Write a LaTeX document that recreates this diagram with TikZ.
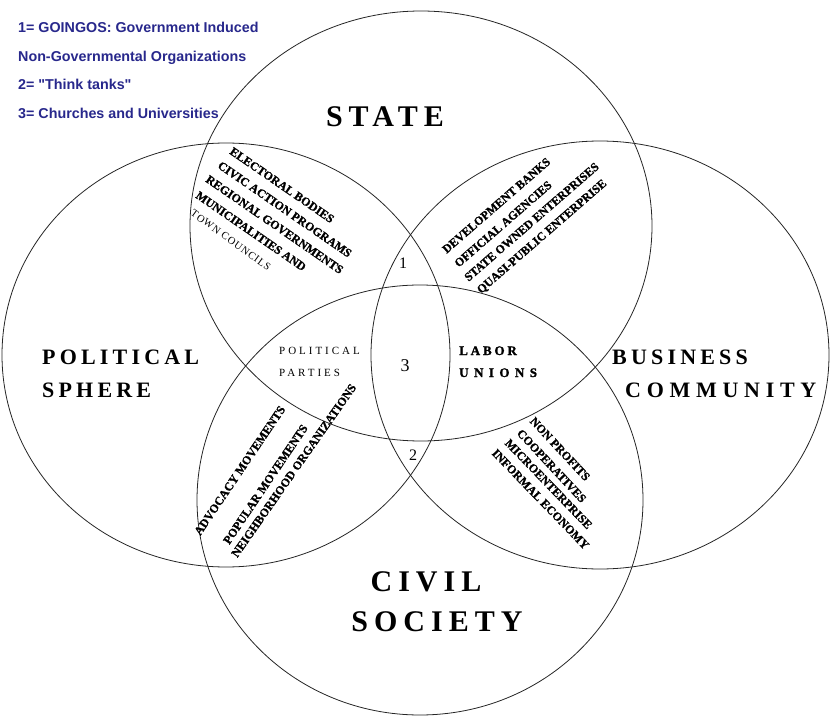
\documentclass[tikz,border=0pt]{standalone}
\usepackage{fontspec}
\setmainfont{Liberation Serif}
\newfontfamily\legendfont{Liberation Sans}
\definecolor{legendblue}{RGB}{40,40,140}
\tikzset{
  circ/.style={draw=black!85, line width=0.8pt},
  legend/.style={anchor=base west, inner sep=0pt, text=legendblue,
    font=\legendfont\bfseries\fontsize{14.3}{15}\selectfont},
  biglabel/.style={inner sep=0pt, anchor=base,
    font=\bfseries\fontsize{30}{30}\selectfont\addfontfeature{LetterSpace=20}},
  midlabel/.style={inner sep=0pt, anchor=base west,
    font=\bfseries\fontsize{22}{22}\selectfont\addfontfeature{LetterSpace=19}},
  partylabel/.style={inner sep=0pt, anchor=base west,
    font=\fontsize{11}{11}\selectfont\addfontfeature{LetterSpace=27}},
  unionlabel/.style={inner sep=0pt, anchor=base west,
    font=\bfseries\fontsize{13}{13}\selectfont\addfontfeature{LetterSpace=22,FakeBold=1.5}},
  numlabel/.style={inner sep=0pt, font=\fontsize{16}{16}\selectfont},
  rtext/.style={inner sep=0pt, anchor=west, font=\bfseries\fontsize{12}{12}\selectfont\addfontfeature{FakeBold=1.2}},
  rtextlight/.style={inner sep=0pt, anchor=west, font=\fontsize{10.5}{11}\selectfont\addfontfeature{LetterSpace=8}}
}
\begin{document}
\begin{tikzpicture}[x=1pt,y=-1pt]
\fill[white] (0,0) rectangle (831,717);
\useasboundingbox (0,0) rectangle (831,717);

% circles
\draw[circ] (421,226) ellipse [x radius=231pt, y radius=215pt];
\draw[circ] (226,355) ellipse [x radius=224pt, y radius=212pt];
\draw[circ] (600,355) ellipse [x radius=229pt, y radius=214pt];
\draw[circ] (420,500) ellipse [x radius=223pt, y radius=215pt];

% legend
\node[legend] (l1) at (18,33) {1= GOINGOS: Government Induced};
\node[legend] (l2) at (18,62) {Non-Governmental Organizations};
\node[legend] (l3) at (18,90) {2= "Think tanks"};
\node[legend] (l4) at (18,118) {3= Churches and Universities};

% main labels
\node[biglabel] (state) at (385,126) {STATE};
\node[biglabel] (civil) at (426,591) {CIVIL};
\node[biglabel] (society) at (437,631) {SOCIETY};
\node[midlabel] (pol) at (42,364) {POLITICAL};
\node[midlabel] (sph) at (42,397) {SPHERE};
\node[midlabel] (bus) at (612,364) {BUSINESS};
\node[midlabel, font=\bfseries\fontsize{22}{22}\selectfont\addfontfeature{LetterSpace=26}] (com) at (625,397) {COMMUNITY};

% inner labels
\node[partylabel] (pp1) at (279,354) {POLITICAL};
\node[partylabel] (pp2) at (279,376) {PARTIES};
\node[unionlabel] (lu1) at (459,355) {LABOR};
\node[unionlabel, font=\bfseries\fontsize{13}{13}\selectfont\addfontfeature{LetterSpace=42,FakeBold=1.5}] (lu2) at (459,377) {UNIONS};
\node[numlabel] (n1) at (403,263) {1};
\node[numlabel] (n2) at (413,455) {2};
\node[numlabel, font=\fontsize{18}{18}\selectfont] (n3) at (405,366) {3};

% State / Political
\node[rtext, rotate=-34.6] (sp1) at (231,150) {ELECTORAL BODIES};
\node[rtext, rotate=-34.6] (sp2) at (219,164) {CIVIC ACTION PROGRAMS};
\node[rtext, rotate=-34.6] (sp3) at (207,178) {REGIONAL GOVERNMENTS};
\node[rtext, rotate=-34.6] (sp4) at (197,194) {MUNICIPALITIES AND};
\node[rtextlight, rotate=-36] (sp5) at (192,212) {TOWN COUNCILS};

% State / Business
\node[rtext, rotate=41] (sb1) at (444,251) {DEVELOPMENT BANKS};
\node[rtext, rotate=41] (sb2) at (456,265) {OFFICIAL AGENCIES};
\node[rtext, rotate=41] (sb3) at (466,279) {STATE OWNED ENTERPRISES};
\node[rtext, rotate=41] (sb4) at (479,292) {QUASI-PUBLIC ENTERPRISE};

% Political / Civil
\node[rtext, rotate=56] (pc1) at (197,534) {ADVOCACY MOVEMENTS};
\node[rtext, rotate=56] (pc2) at (226,543) {POPULAR MOVEMENTS};
\node[rtext, rotate=55] (pc3) at (234,556) {NEIGHBORHOOD ORGANIZATIONS};

% Business / Civil
\node[rtext, rotate=-47] (bc1) at (532,419) {NON PROFITS};
\node[rtext, rotate=-47] (bc2) at (519,431) {COOPERATIVES};
\node[rtext, rotate=-46] (bc3) at (507,441) {MICROENTERPRISE};
\node[rtext, rotate=-46] (bc4) at (494,451) {INFORMAL ECONOMY};
\end{tikzpicture}
\end{document}
